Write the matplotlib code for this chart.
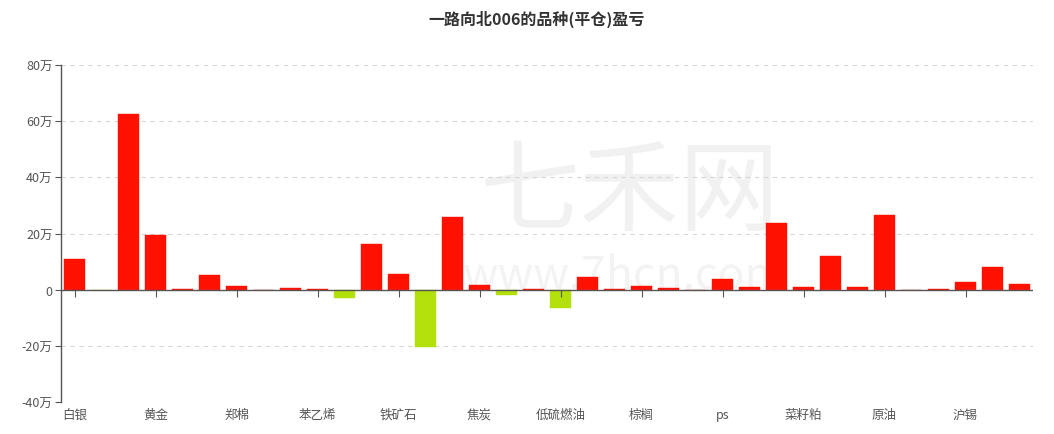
import matplotlib
matplotlib.use("Agg")
import matplotlib.pyplot as plt
from matplotlib import markers
import numpy as np

plt.rcParams["font.family"] = ["Noto Sans CJK SC", "DejaVu Sans"]

# values in 万 (10k yuan)
categories = [
    "白银", "", "", "黄金", "", "", "郑棉", "", "", "苯乙烯", "", "",
    "铁矿石", "", "", "焦炭", "", "", "低硫燃油", "", "", "棕榈", "", "",
    "ps", "", "", "菜籽粕", "", "", "原油", "", "", "沪锡", "", "",
]
pnl = [
    10.9, -0.1, 62.6, 19.3, 0.1, 5.2, 1.3, 0.0, 0.8, 0.1, -3.1, 16.1,
    5.6, -20.2, 25.7, 1.8, -1.7, 0.1, -6.5, 4.5, 0.1, 1.3, 0.8, 0.05,
    3.8, 1.0, 23.7, 1.0, 11.9, 1.1, 26.7, 0.0, 0.3, 2.9, 8.0, 2.1,
]
yticks = [-40, -20, 0, 20, 40, 60, 80]

red = "#ff1100"
green = "#b3e00a"
axis_col = "#555555"

fig = plt.figure(figsize=(10.54, 4.35), dpi=100)
ax = fig.add_axes([61 / 1054, 1 - 403.3 / 435, (1033 - 61) / 1054, (403.3 - 65.7) / 435])

x = np.arange(len(pnl))
cols = [red if v >= 0 else green for v in pnl]
ax.bar(x, pnl, width=0.78, color=cols, edgecolor=cols, linewidth=0.3, zorder=3)

ax.set_xlim(-0.5, len(pnl) - 0.5)
ax.set_ylim(-40, 80)

# watermark
ax.text(0.585, 0.62, "七禾网", transform=ax.transAxes, fontsize=72, color="#f1f1f1",
        ha="center", va="center", zorder=1)
ax.text(0.58, 0.38, "www.7hcn.com", transform=ax.transAxes, fontsize=32, color="#f3f3f3",
        ha="center", va="center", zorder=1)

ax.set_yticks(yticks)
ax.set_yticklabels([f"{v}万" if v != 0 else "0" for v in yticks])
ax.grid(axis="y", linestyle=(0, (4, 4)), color="#d6d6d6", linewidth=0.8, zorder=0)

lab_pos = [i for i, c in enumerate(categories) if c]
ax.set_xticks(lab_pos)
ax.set_xticklabels([categories[i] for i in lab_pos])
ax.tick_params(axis="x", length=0, pad=4, labelsize=9, labelcolor="#555555")
ax.tick_params(axis="y", length=4, width=0.8, color=axis_col, pad=2, labelsize=9,
               labelcolor="#555555")

for s in ["top", "right", "bottom"]:
    ax.spines[s].set_visible(False)
ax.spines["left"].set_color(axis_col)
ax.spines["left"].set_linewidth(1)

# x axis line sits on zero
ax.axhline(0, color=axis_col, linewidth=1, zorder=4)
ax.plot(lab_pos, [0] * len(lab_pos), ls="none", marker=markers.TICKDOWN, ms=5,
        mew=0.8, color=axis_col, zorder=4)

fig.text(537 / 1054, 1 - 19 / 435, "一路向北006的品种(平仓)盈亏", ha="center", va="center",
         fontsize=11.5, fontweight="bold", color="#333333")

fig.savefig("out.png", dpi=100)
